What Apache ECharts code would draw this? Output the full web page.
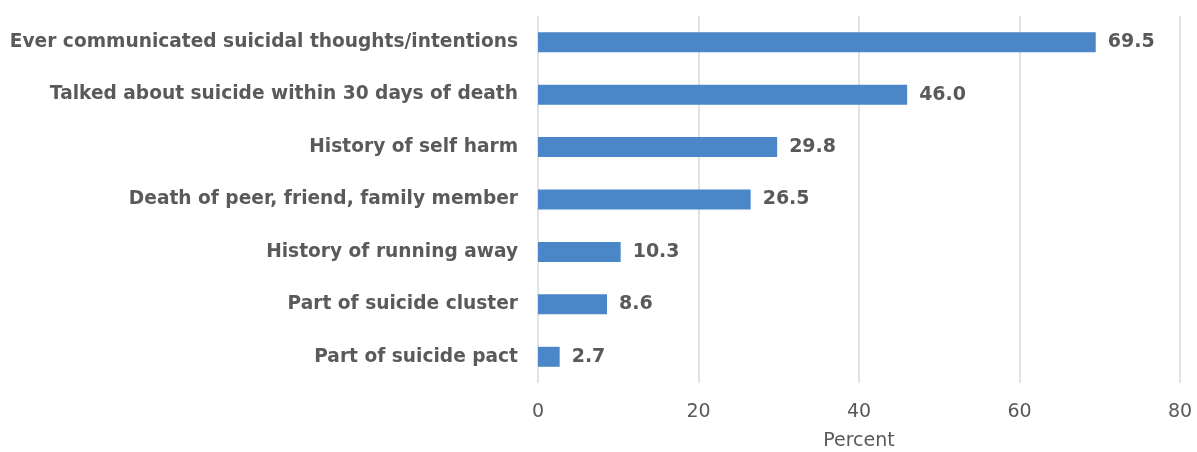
<!DOCTYPE html>
<html><head><meta charset="utf-8">
<script src="https://cdn.jsdelivr.net/npm/echarts@6/dist/echarts.min.js"></script>
<style>html,body{margin:0;padding:0;background:#fff}#c{width:1197px;height:452px}</style>
</head><body><div id="c"></div>
<script>
const categories = ["Ever communicated suicidal thoughts/intentions","Talked about suicide within 30 days of death","History of self harm","Death of peer, friend, family member","History of running away","Part of suicide cluster","Part of suicide pact"];
const values = [69.5, 46.0, 29.8, 26.5, 10.3, 8.6, 2.7];
const xTicks = [0, 20, 40, 60, 80];
const FONT = "DejaVu Sans";
const chart = echarts.init(document.getElementById('c'));
chart.setOption({
  animation:false,
  grid:{left:538,right:17,top:16,height:367,containLabel:false,outerBoundsMode:'none'},
  xAxis:{type:'value',min:xTicks[0],max:xTicks[xTicks.length-1],interval:20,
    name:'Percent',nameLocation:'middle',nameGap:49,
    nameTextStyle:{color:'#595959',fontSize:19,fontFamily:FONT},
    axisLine:{show:false},axisTick:{show:false},
    axisLabel:{color:'#595959',fontSize:19,fontFamily:FONT,margin:20},
    splitLine:{lineStyle:{color:'#d9d9d9',width:1.5}}},
  yAxis:{type:'category',data:categories,inverse:true,
    axisLine:{show:false},axisTick:{show:false},
    axisLabel:{color:'#5a5a5a',fontSize:18.6,fontWeight:'bold',fontFamily:FONT,margin:20}},
  series:[{type:'bar',data:values,barWidth:20,itemStyle:{color:'#4a86c8'},
    label:{show:true,position:'right',distance:12,color:'#595959',fontSize:19,fontWeight:'bold',fontFamily:FONT,
      formatter:p=>p.value.toFixed(1)}}]
});
</script></body></html>
